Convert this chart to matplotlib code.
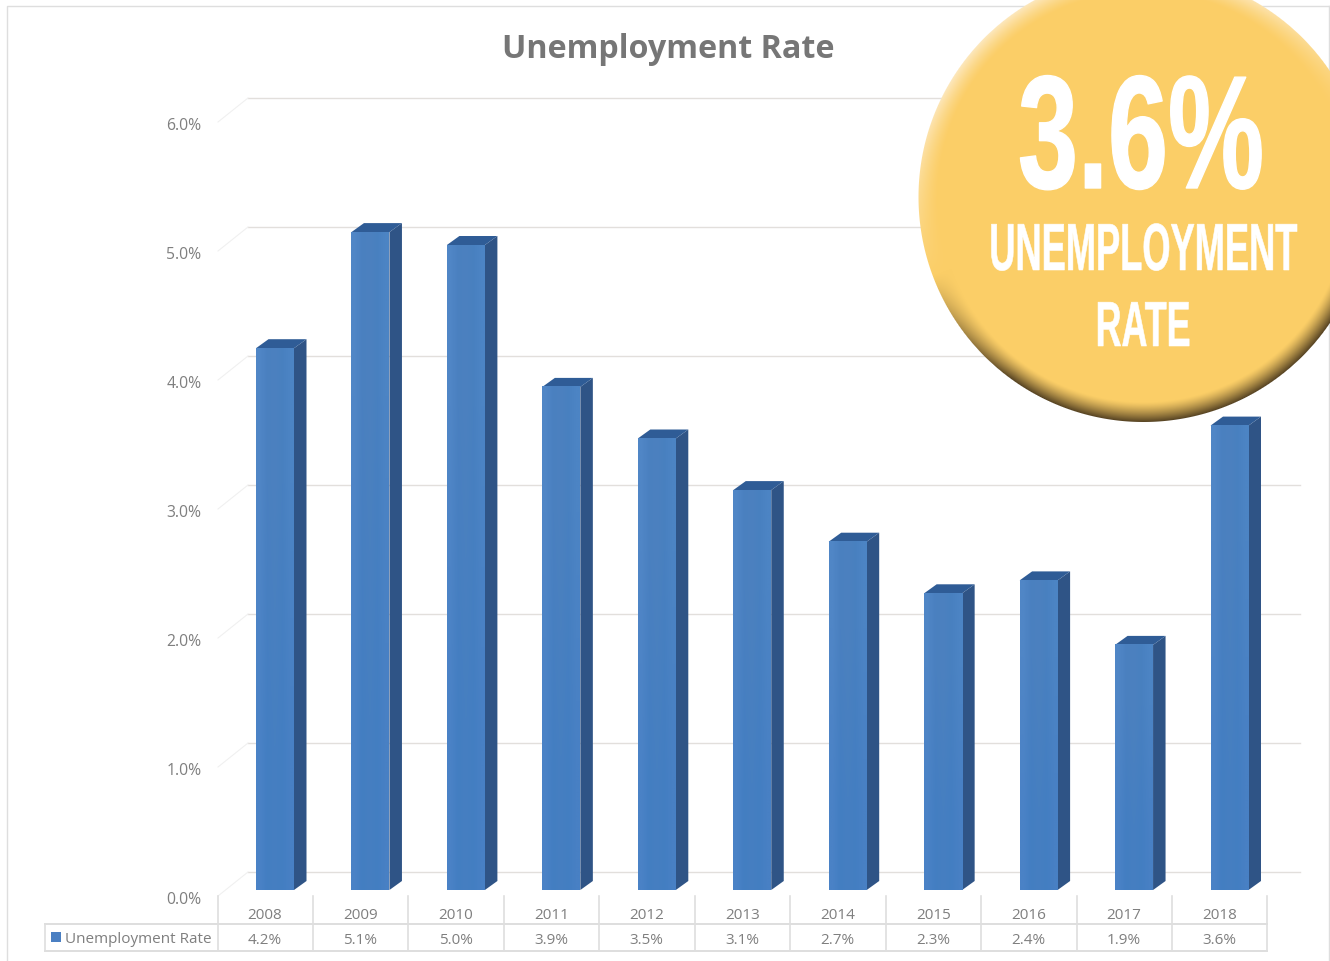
import matplotlib
matplotlib.use("Agg")
import matplotlib.pyplot as plt
import matplotlib.patheffects as pe
from matplotlib.transforms import Affine2D, ScaledTranslation
import numpy as np

years = ['2008', '2009', '2010', '2011', '2012', '2013', '2014', '2015', '2016', '2017', '2018']
rates = [4.2, 5.1, 5.0, 3.9, 3.5, 3.1, 2.7, 2.3, 2.4, 1.9, 3.6]
ticks = [0, 1, 2, 3, 4, 5, 6]
series_name = 'Unemployment Rate'
badge_value = '3.6%'
badge_lines = ['UNEMPLOYMENT', 'RATE']

W, H = 1330, 962
GREY = '#7f7f7f'
LINE = '#dedede'
FRONT, SIDE, TOP = '#4a7fc2', '#2f5486', '#2f5c96'
plt.rcParams['font.family'] = ['Open Sans', 'DejaVu Sans']


class Condense(pe.AbstractPathEffect):
    # no condensed font here, so rescale the glyphs round the text anchor and thicken them a bit
    def __init__(self, sx, sy, cx, cy, stroke):
        super().__init__()
        self.sx, self.sy, self.cx, self.cy, self.stroke = sx, sy, cx, cy, stroke

    def draw_path(self, renderer, gc, tpath, affine, rgbFace=None):
        a = affine + Affine2D().translate(-self.cx, -self.cy).scale(self.sx, self.sy).translate(self.cx, self.cy)
        gc0 = renderer.new_gc()
        gc0.copy_properties(gc)
        gc0.set_linewidth(self.stroke)
        gc0.set_foreground('white')
        renderer.draw_path(gc0, tpath, a, rgbFace)
        gc0.restore()


fig = plt.figure(figsize=(W / 100, H / 100), dpi=100)

# chart axes, category 0 sits at x=275px and value 0 at y=891px
L, R, T, B = 218, 1300, 80, 891
ax = fig.add_axes([L / W, 1 - B / H, (R - L) / W, (B - T) / H])
sx, sy = 95.45, 129.0
xlim = ((L - 275) / sx, (R - 275) / sx)
ylim = (0, (B - T) / sy)
for s in ax.spines.values():
    s.set_visible(False)

# back wall gridlines and the faint side diagonals
wall_x = (248 - 275) / sx
for v in ticks:
    ax.plot([wall_x, xlim[1]], [v + 18 / sy] * 2, color='#e2dfdc', lw=1.0, zorder=1, clip_on=False)
    ax.plot([wall_x, xlim[0]], [v + 18 / sy, v - 6 / sy], color='#f0f0f0', lw=0.8, zorder=1, clip_on=False)

# bars as three faces, the front one with the soft sheen of the original
hw = 19 / sx
dx, dy = 12.5 / sx, 9 / sy
sheen = np.array([[[0x50, 0x86, 0xc6], [0x4a, 0x80, 0xc0], [0x4c, 0x81, 0xbf], [0x48, 0x80, 0xc0], [0x4c, 0x84, 0xc4]],
                  [[0x4a, 0x82, 0xc6], [0x43, 0x7e, 0xc2], [0x46, 0x7f, 0xc1], [0x43, 0x7e, 0xc2], [0x48, 0x80, 0xc4]]]) / 255
for i, v in enumerate(rates):
    ax.fill([i + hw, i + hw + dx, i + hw + dx, i + hw], [0, dy, v + dy, v], color=SIDE, lw=0, zorder=3)
    ax.fill([i - hw, i + hw, i + hw + dx, i - hw + dx], [v, v, v + dy, v + dy], color=TOP, lw=0, zorder=3)
    ax.imshow(sheen, extent=(i - hw, i + hw, 0, v), aspect='auto', zorder=4, interpolation='bilinear')
ax.set_xlim(xlim)
ax.set_ylim(ylim)

ax.set_yticks(ticks, [f'{v:.1f}%' for v in ticks], color=GREY, fontsize=11.3)
ax.tick_params(axis='y', length=0, pad=12)
for lab in ax.get_yticklabels():
    lab.set_transform(lab.get_transform() + ScaledTranslation(0, -7.5 / 100, fig.dpi_scale_trans))
ax.set_xticks(range(len(years)), years, color=GREY, fontsize=11)
ax.tick_params(axis='x', length=0, pad=12.5)
for lab in ax.get_xticklabels():
    lab.set_transform(lab.get_transform() + ScaledTranslation(-10 / 100, 0, fig.dpi_scale_trans))
for i, v in enumerate(rates):
    ax.annotate(f'{v:.1f}%', xy=(i, 0), xytext=(-10 * .72, -49.5 * .72), textcoords='offset points',
                ha='center', va='center', color=GREY, fontsize=11, annotation_clip=False)

# overlay in pixel coordinates: frame, data table, badge
ov = fig.add_axes([0, 0, 1, 1], zorder=5)
ov.patch.set_alpha(0)
ov.axis('off')

ov.plot([7, 7, W], [H, 7, 7], color=LINE, lw=1)
ov.plot([1329, 1329], [7, H], color=LINE, lw=1)
cols = [217.5 + 95.45 * k for k in range(len(years) + 1)]
for c in cols:
    ov.plot([c, c], [897, 952], color=LINE, lw=1.2)
ov.plot([45, 45], [925, 952], color=LINE, lw=1.2)
for y in [925, 952]:
    ov.plot([45, cols[-1]], [y, y], color=LINE, lw=1.4)
ov.fill([51, 61, 61, 51], [933, 933, 943, 943], color=FRONT, lw=0)
ov.text(65, 940, series_name, color=GREY, fontsize=11, va='center', ha='left')

ov.text(668, 49, series_name, color='#767676', fontsize=23.2, fontweight='bold', ha='center', va='center')

# bevelled badge
cx, cy, rad = 1143, 198.5, 225
xx, yy = np.meshgrid(np.arange(900, W + 1), np.arange(0, 440))
d = np.hypot(xx - cx, yy - cy)
nx, ny = (xx - cx) / d.clip(1), (yy - cy) / d.clip(1)
s = (nx * 0.35 + ny * 0.94)
edge = np.clip((d - (rad - 20)) / 20, 0, 1) ** 1.3
base = np.array([0xfb, 0xce, 0x67]) / 255
dark = np.array([0x55, 0x42, 0x22]) / 255
light = np.array([0xfd, 0xe8, 0xbe]) / 255
kd = (edge * np.clip(s * 1.8, 0, 1))[..., None]
kl = (edge * np.clip(-s * 1.3, 0, 1))[..., None]
rgb = base * (1 - kd - kl) + dark * kd + light * kl
alpha = np.clip(rad - d + 0.5, 0, 1)[..., None]
ov.imshow(np.dstack([rgb, alpha]), extent=(899.5, W + 0.5, 439.5, -0.5), aspect='auto', zorder=6, interpolation='nearest')
ov.set_xlim(0, W)
ov.set_ylim(H, 0)


def condensed(txt, x, y, size, scale_x, scale_y, stroke):
    t = ov.text(x, y, txt, color='white', fontsize=size, fontweight='bold', family='Liberation Sans',
                ha='center', va='baseline', zorder=7)
    t.set_path_effects([Condense(scale_x, scale_y, x, H - y, stroke)])


condensed(badge_value, 1141, 189, 116, 0.67, 1.0, 1.0)
condensed(badge_lines[0], 1143, 271, 30, 0.87, 1.6, 0.4)
condensed(badge_lines[1], 1143, 347, 30, 0.86, 1.53, 0.4)

fig.savefig('out.png', dpi=100)
